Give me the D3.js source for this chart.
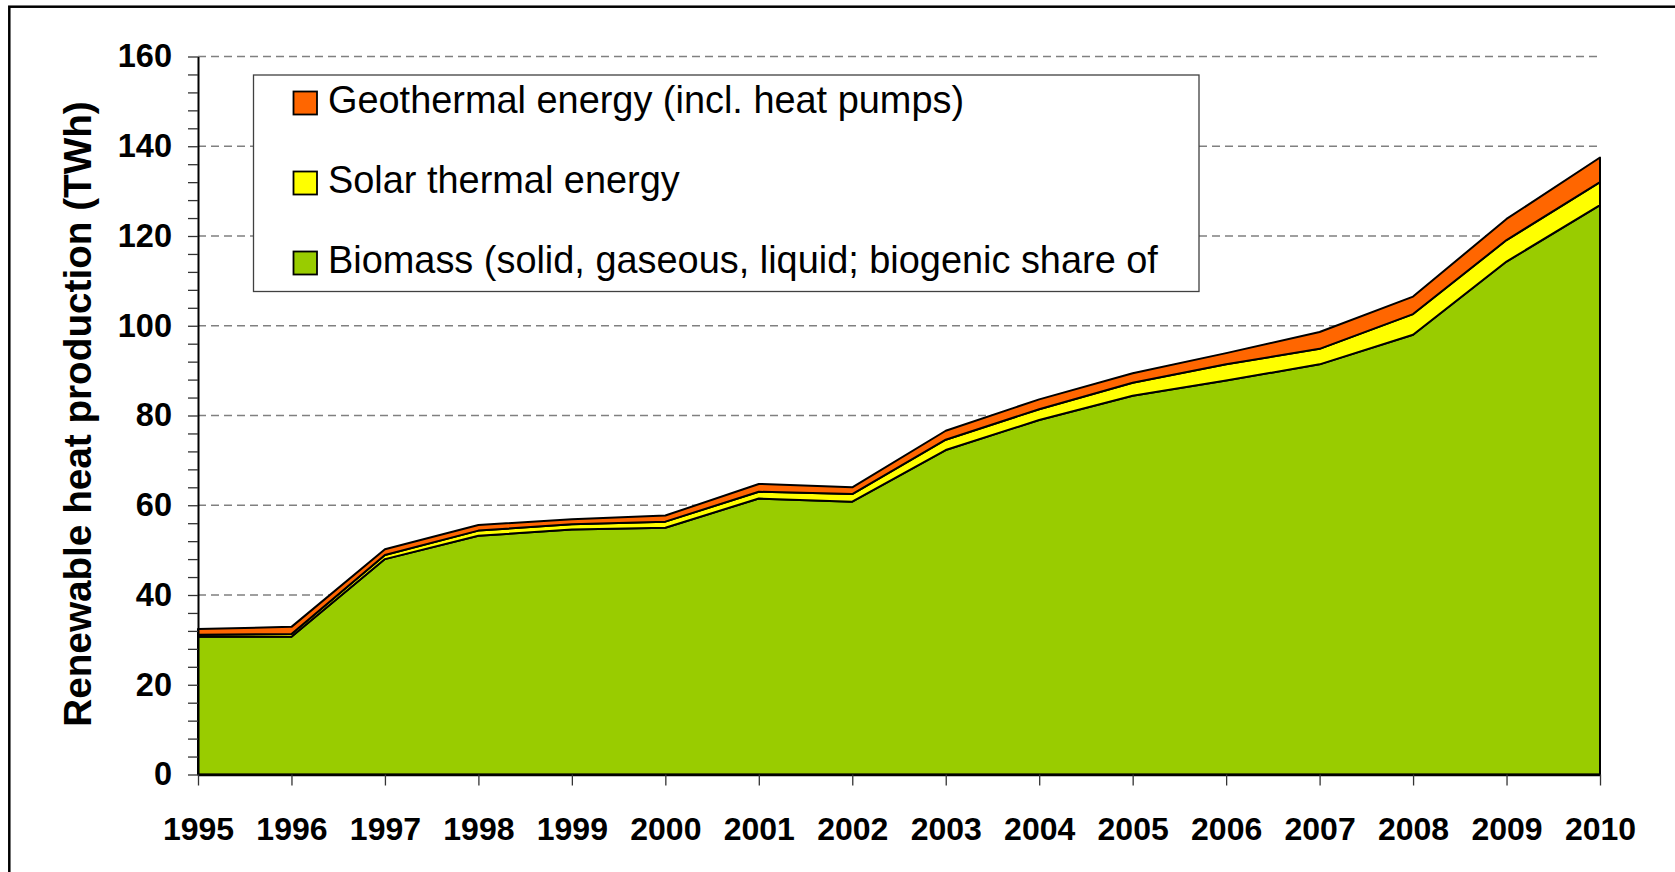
<!DOCTYPE html>
<html>
<head>
<meta charset="utf-8">
<script src="https://cdn.jsdelivr.net/npm/d3@7"></script>
<style>
  html, body { margin: 0; padding: 0; background: #fff; }
  svg { display: block; }
  text { font-family: "Liberation Sans", Arial, sans-serif; }
</style>
</head>
<body>
<svg id="chart" width="1675" height="872"></svg>
<script>
const years = [1995, 1996, 1997, 1998, 1999, 2000, 2001, 2002, 2003, 2004, 2005, 2006, 2007, 2008, 2009, 2010];
const biomass = [30.7, 30.7, 48.0, 53.2, 54.6, 55.0, 61.5, 60.8, 72.3, 79.0, 84.4, 87.8, 91.4, 98.0, 114.3, 126.9];
const solar = [0.45, 0.6, 0.9, 1.15, 1.15, 1.35, 1.5, 1.7, 2.3, 2.4, 2.9, 3.6, 3.45, 4.6, 4.8, 5.1];
const geothermal = [1.3, 1.6, 1.3, 1.25, 1.15, 1.35, 1.75, 1.5, 2.0, 2.2, 2.1, 2.5, 3.75, 3.9, 4.7, 5.5];
const seriesKeys = ["biomass", "solar", "geothermal"];
const seriesColors = ["#99CC00", "#FFFF00", "#FF6600"];
const legendLabels = [
  "Geothermal energy (incl. heat pumps)",
  "Solar thermal energy",
  "Biomass (solid, gaseous, liquid; biogenic share of"
];
const legendColors = ["#FF6600", "#FFFF00", "#99CC00"];
const yTicks = [0, 20, 40, 60, 80, 100, 120, 140, 160];
const yTitle = "Renewable heat production (TWh)";

const table = years.map((yr, i) => ({ year: yr, biomass: biomass[i], solar: solar[i], geothermal: geothermal[i] }));

const svg = d3.select("#chart");
const FONT = '"Liberation Sans", Arial, sans-serif';

// outer frame (only top/left visible in the crop)
svg.append("rect").attr("x", 9.3).attr("y", 6.7).attr("width", 1720).attr("height", 920)
  .attr("fill", "none").attr("stroke", "#000").attr("stroke-width", 2.5);

const x = d3.scaleLinear().domain([1995, 2010]).range([198, 1600]);
const y = d3.scaleLinear().domain([0, 160]).range([774.5, 56.5]);

// gridlines
svg.append("g").selectAll("line").data(yTicks.filter(d => d > 0)).join("line")
  .attr("x1", x(1995)).attr("x2", x(2010))
  .attr("y1", d => y(d)).attr("y2", d => y(d))
  .attr("stroke", "#808080").attr("stroke-width", 1.3).attr("stroke-dasharray", "8,5");

// stacked areas
const stack = d3.stack().keys(seriesKeys);
const stacked = stack(table);
const area = d3.area()
  .x(d => x(d.data.year))
  .y0(d => y(d[0]))
  .y1(d => y(d[1]));
svg.append("g").selectAll("path").data(stacked).join("path")
  .attr("d", area)
  .attr("fill", (d, i) => seriesColors[i])
  .attr("stroke", "#000").attr("stroke-width", 2).attr("stroke-linejoin", "round");

// y axis
const yAxis = d3.axisLeft(y)
  .tickValues(d3.range(0, 161, 4))
  .tickFormat(d => d % 20 === 0 ? d : "")
  .tickSize(10).tickSizeOuter(0).tickPadding(16);
const gy = svg.append("g").attr("transform", `translate(${x(1995)},0)`).call(yAxis);
gy.select(".domain").attr("stroke", "#000").attr("stroke-width", 2);
gy.selectAll(".tick line").attr("stroke", "#333").attr("stroke-width", 1.3);
gy.selectAll(".tick text").attr("font-family", FONT).attr("font-size", 32.5).attr("font-weight", "bold").attr("fill", "#000");

// x axis
const xAxis = d3.axisBottom(x)
  .tickValues(years)
  .tickFormat(d3.format("d"))
  .tickSize(11).tickSizeOuter(0).tickPadding(32);
const gx = svg.append("g").attr("transform", `translate(0,${y(0)})`).call(xAxis);
gx.select(".domain").attr("stroke", "#000").attr("stroke-width", 2.5);
gx.selectAll(".tick line").attr("stroke", "#333").attr("stroke-width", 1.3);
gx.selectAll(".tick text").attr("font-family", FONT).attr("font-size", 32).attr("font-weight", "bold").attr("fill", "#000");

// y title
svg.append("text")
  .attr("transform", "translate(91,414) rotate(-90)")
  .attr("text-anchor", "middle")
  .attr("font-family", FONT).attr("font-size", 38.7).attr("font-weight", "bold")
  .text(yTitle);

// legend
const lg = svg.append("g");
lg.append("rect").attr("x", 253.5).attr("y", 75).attr("width", 945.5).attr("height", 216.5)
  .attr("fill", "#fff").attr("stroke", "#404040").attr("stroke-width", 1.3);
const items = lg.selectAll("g.item").data(legendLabels).join("g").attr("class", "item")
  .attr("transform", (d, i) => `translate(0,${i * 80})`);
items.append("rect").attr("x", 293.5).attr("y", 91.5).attr("width", 23.5).attr("height", 23)
  .attr("fill", (d, i) => legendColors[i]).attr("stroke", "#000").attr("stroke-width", 1.8);
items.append("text").attr("x", 328).attr("y", 112.7)
  .attr("font-family", FONT).attr("font-size", 37.9).attr("fill", "#000")
  .text(d => d);
</script>
</body>
</html>
